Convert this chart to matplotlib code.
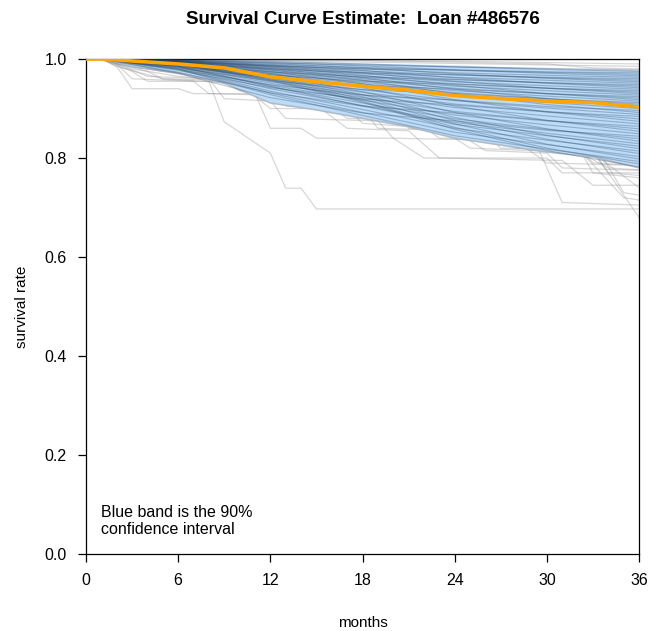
import matplotlib
matplotlib.use("Agg")
import matplotlib.pyplot as plt
import numpy as np

plt.rcParams['font.family'] = ['Liberation Sans', 'DejaVu Sans']

TITLE = "Survival Curve Estimate:  Loan #486576"
NOTE = "Blue band is the 90%\nconfidence interval"
X_TICKS = [0, 6, 12, 18, 24, 30, 36]
Y_TICKS = [0.0, 0.2, 0.4, 0.6, 0.8, 1.0]

# band and median, read every 3 months
band_months = [0, 1, 3, 6, 9, 12, 15, 18, 21, 24, 27, 30, 33, 36]
band_lower = [1.0, 1.0, 0.984, 0.972, 0.951, 0.911, 0.897, 0.880, 0.863, 0.840, 0.826, 0.812, 0.802, 0.780]
band_upper = [1.0, 1.0, 1.0, 1.0, 0.999, 0.997, 0.995, 0.992, 0.990, 0.988, 0.985, 0.982, 0.980, 0.978]
median = [1.0, 1.0, 0.996, 0.990, 0.982, 0.964, 0.954, 0.945, 0.937, 0.926, 0.920, 0.915, 0.912, 0.903]

# sample curves inside the band, values at these months
sample_months = [0, 1, 6, 12, 18, 24, 30, 36]
inband_curves = [
    [1, 1, .998, .992, .988, .984, .981, .978],
    [1, 1, .999, .995, .990, .984, .979, .975],
    [1, 1, .994, .986, .980, .978, .974, .972],
    [1, 1, .997, .989, .983, .977, .973, .969],
    [1, 1, .998, .993, .986, .978, .971, .966],
    [1, 1, .996, .987, .980, .972, .967, .963],
    [1, 1, .992, .980, .972, .968, .963, .960],
    [1, 1, .996, .985, .976, .968, .962, .957],
    [1, 1, .998, .991, .982, .970, .961, .954],
    [1, 1, .995, .983, .973, .963, .957, .951],
    [1, 1, .990, .974, .964, .958, .952, .948],
    [1, 1, .995, .981, .970, .959, .952, .945],
    [1, 1, .997, .988, .977, .962, .951, .942],
    [1, 1, .994, .979, .966, .954, .946, .939],
    [1, 1, .987, .968, .955, .949, .941, .936],
    [1, 1, .993, .977, .963, .950, .941, .933],
    [1, 1, .997, .986, .972, .955, .941, .930],
    [1, 1, .993, .974, .960, .945, .936, .927],
    [1, 1, .985, .962, .947, .939, .930, .924],
    [1, 1, .992, .972, .957, .941, .930, .921],
    [1, 1, .996, .984, .967, .947, .930, .918],
    [1, 1, .992, .970, .953, .936, .925, .915],
    [1, 1, .982, .956, .938, .930, .919, .912],
    [1, 1, .991, .968, .950, .932, .920, .909],
    [1, 1, .995, .981, .962, .939, .920, .906],
    [1, 1, .990, .965, .945, .925, .912, .900],
    [1, 1, .979, .948, .927, .917, .904, .896],
    [1, 1, .995, .978, .957, .930, .908, .892],
    [1, 1, .989, .961, .938, .916, .901, .888],
    [1, 1, .977, .942, .919, .907, .893, .884],
    [1, 1, .988, .958, .933, .909, .894, .879],
    [1, 1, .994, .975, .950, .918, .893, .874],
    [1, 1, .987, .954, .928, .902, .885, .869],
    [1, 1, .973, .932, .905, .891, .875, .864],
    [1, 1, .986, .951, .922, .894, .876, .859],
    [1, 1, .993, .971, .942, .905, .876, .854],
    [1, 1, .985, .947, .917, .887, .867, .849],
    [1, 1, .971, .922, .891, .875, .856, .844],
    [1, 1, .984, .944, .911, .879, .858, .839],
    [1, 1, .992, .967, .934, .892, .859, .834],
    [1, 1, .983, .940, .906, .872, .850, .829],
    [1, 1, .985, .945, .905, .868, .845, .824],
    [1, 1, .991, .964, .928, .882, .846, .819],
    [1, 1, .981, .935, .898, .860, .836, .814],
    [1, 1, .990, .962, .924, .876, .838, .809],
    [1, 1, .980, .931, .892, .852, .827, .803],
    [1, 1, .990, .960, .919, .869, .828, .798],
    [1, 1, .979, .928, .886, .845, .818, .793],
    [1, 1, .989, .958, .915, .862, .820, .788],
    [1, 1, .989, .956, .913, .858, .815, .782],
]

# sample curves outside the band, (month, value) knots
outer_curves = [
    [(0, 1), (36, 1.0)],
    [(0, 1), (1, 1), (14, .998), (25, .995), (36, .990)],
    [(0, 1), (1, 1), (10, .997), (22, .992), (36, .985)],
    [(0, 1), (1, 1), (18, .997), (30, .990), (33, .982), (36, .980)],
    [(0, 1), (1, 1), (2, .985), (3, .94), (6, .94), (7, .93), (11, .93), (12, .86), (14, .86), (15, .84), (20, .84), (22, .80), (30, .80), (31, .77), (36, .77)],
    [(0, 1), (1, 1), (3, .975), (4, .955), (8, .955), (9, .873), (12, .81), (13, .739), (14, .739), (15, .697), (36, .697)],
    [(0, 1), (1, 1), (4, .975), (5, .96), (10, .95), (12, .90), (17, .90), (18, .87), (23, .86), (25, .82), (33, .81), (36, .74)],
    [(0, 1), (1, 1), (2, .99), (4, .965), (8, .96), (9, .92), (12, .915), (13, .88), (19, .875), (20, .84), (28, .835), (30, .79), (36, .785)],
    [(0, 1), (1, 1), (3, .985), (6, .97), (9, .96), (10, .935), (14, .93), (17, .86), (21, .855), (23, .80), (31, .795), (33, .745), (36, .745)],
    [(0, 1), (1, 1), (4, .98), (7, .975), (9, .95), (12, .945), (13, .905), (18, .90), (19, .86), (24, .855), (26, .835), (31, .83), (34, .78), (36, .776)],
    [(0, 1), (1, 1), (2, .99), (3, .96), (7, .955), (8, .93), (15, .925), (17, .88), (25, .875), (27, .82), (34, .815), (36, .80)],
    [(0, 1), (1, 1), (5, .98), (8, .965), (11, .96), (13, .92), (16, .915), (19, .885), (22, .88), (24, .855), (29, .85), (31, .71), (36, .705)],
    [(0, 1), (1, 1), (3, .98), (6, .965), (10, .955), (11, .925), (20, .92), (21, .86), (24, .855), (26, .815), (30, .81), (31, .78), (36, .775)],
    [(0, 1), (1, 1), (4, .985), (8, .97), (12, .955), (14, .92), (19, .915), (20, .87), (28, .865), (30, .825), (32, .82), (35, .72), (36, .715)],
    [(0, 1), (1, 1), (6, .985), (9, .97), (13, .95), (15, .90), (22, .895), (23, .85), (27, .845), (28, .82), (33, .815), (36, .68)],
    [(0, 1), (1, 1), (2, .99), (5, .975), (10, .965), (12, .94), (18, .935), (19, .905), (25, .90), (27, .85), (30, .845), (31, .83), (36, .825)],
    [(0, 1), (1, 1), (3, .99), (9, .975), (11, .96), (14, .955), (16, .91), (24, .905), (26, .86), (32, .855), (34, .77), (36, .765)],
    [(0, 1), (1, 1), (5, .99), (11, .97), (12, .93), (17, .925), (18, .89), (21, .885), (23, .84), (33, .835), (35, .73), (36, .725)],
    [(0, 1), (1, 1), (4, .99), (8, .975), (12, .955), (15, .95), (17, .90), (26, .895), (27, .87), (31, .865), (33, .84), (36, .835)],
    [(0, 1), (1, 1), (6, .99), (10, .975), (13, .945), (20, .94), (22, .895), (29, .89), (30, .86), (36, .855)],
    [(0, 1), (1, 1), (3, .985), (7, .97), (10, .965), (16, .955), (19, .905), (23, .90), (26, .86), (31, .855), (33, .79), (36, .785)],
    [(0, 1), (1, 1), (7, .99), (12, .97), (14, .95), (19, .945), (21, .91), (26, .905), (28, .87), (36, .865)],
    [(0, 1), (1, 1), (2, .985), (5, .96), (12, .955), (14, .92), (20, .915), (22, .875), (25, .87), (29, .83), (35, .825), (36, .82)],
    [(0, 1), (1, 1), (4, .985), (11, .97), (16, .95), (18, .93), (24, .925), (25, .885), (31, .88), (33, .77), (36, .76)],
    [(0, 1), (1, 1), (8, .985), (13, .965), (17, .95), (22, .93), (27, .90), (30, .865), (36, .86)],
    [(0, 1), (1, 1), (3, .99), (10, .97), (14, .945), (21, .94), (23, .885), (30, .88), (32, .845), (36, .84)],
    [(0, 1), (1, 1), (5, .98), (9, .965), (12, .945), (17, .94), (20, .905), (30, .90), (33, .86), (36, .855)],
    [(0, 1), (1, 1), (6, .985), (12, .96), (18, .935), (24, .91), (30, .885), (34, .87), (36, .865)],
]

fig = plt.figure(figsize=(6.5, 6.31), dpi=100)
ax = fig.add_axes([0.1323, 0.1220, 0.8508, 0.7845])

for curve in outer_curves:
    xs, ys = zip(*curve)
    ax.plot(xs, ys, color='#8c8c8c', alpha=0.35, lw=0.9, zorder=1)

ax.fill_between(band_months, band_lower, band_upper, color='#bcdcf8', lw=0, zorder=2)
ax.plot(band_months, band_lower, color='#9a9a9a', alpha=0.5, lw=1.2, zorder=2)

for vals in inband_curves:
    ax.plot(sample_months, vals, color='#1c3a5e', alpha=0.28, lw=0.85, zorder=3)

ax.plot(band_months, median, color='#ffa500', lw=2.6, zorder=4)

ax.text(1.0, 0.035, NOTE, fontsize=11.5, ha='left', va='bottom', linespacing=1.1)

ax.set_xlim(0, 36)
ax.set_ylim(0, 1)
ax.set_xticks(X_TICKS)
ax.set_xticklabels([str(t) for t in X_TICKS])
ax.set_yticks(Y_TICKS)
ax.set_yticklabels([f"{t:.1f}" for t in Y_TICKS])
ax.tick_params(direction='out', length=6, width=0.9, labelsize=11.5, pad=8)
for s in ax.spines.values():
    s.set_linewidth(0.9)
ax.set_xlabel("months", fontsize=11, labelpad=20)
ax.set_ylabel("survival rate", fontsize=11, labelpad=11)
fig.suptitle(TITLE, fontsize=13.5, fontweight='bold', x=0.558, y=0.982)

fig.savefig("out.png", dpi=100)
